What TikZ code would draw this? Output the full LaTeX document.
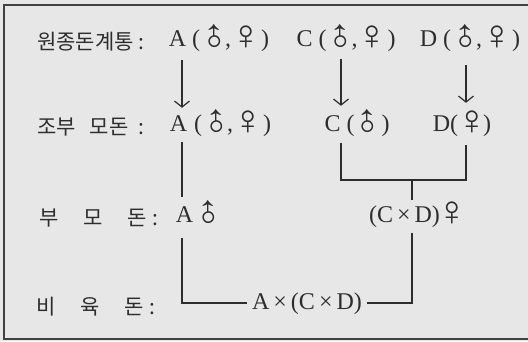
\documentclass[tikz,border=0pt]{standalone}
\usepackage{fontspec}
\setmainfont{Liberation Serif}
\newfontfamily\krfont{Noto Sans CJK KR}
\newfontfamily\symfont{Liberation Serif}
\usepackage{graphicx}
\usetikzlibrary{arrows.meta,positioning,calc}
\definecolor{paper}{RGB}{231,231,231}
\definecolor{ink}{RGB}{45,45,45}
\newcommand{\msym}{\makebox[14pt][c]{\raisebox{-0.2em}{\scalebox{1.75}{\rotatebox[origin=c]{45}{\symfont ♂}}}}}
\newcommand{\fsym}{\makebox[14pt][c]{\raisebox{-0.12em}{\scalebox{1.75}{\symfont ♀}}}}
\newcommand{\mfpair}{(\hspace{9pt}\msym\hspace{2pt},\hspace{8pt}\fsym\hspace{8pt})}
\newcommand{\tms}{\,×\,}
\tikzset{
  lbl/.style={anchor=west,inner sep=0pt,text=ink,font=\krfont\fontsize{21}{24}\selectfont},
  ent/.style={inner sep=0pt,text height=14pt,text depth=5pt,text=ink,font=\fontsize{24}{28}\selectfont},
  arr/.style={-{Straight Barb[length=6pt,width=15pt]},line width=1.2pt,color=ink},
  ln/.style={line width=1.2pt,color=ink},
  frame/.style={line width=1.4pt,color=ink!90}
}

\begin{document}
\begin{tikzpicture}[x=1pt,y=-1pt]
  \useasboundingbox (0,0) rectangle (528,341);
  \fill[paper] (0,0) rectangle (528,341);
  \draw[frame] (528,5) -- (4,5) -- (4,339) -- (528,339);

  % row labels
  \node[lbl] (l1) at (37,42) {원종돈계통\hspace{5pt}:};
  \node[lbl] (l2) at (37,127) {조부\hspace{14pt}모돈\hspace{10pt}:};
  \node[lbl] (l3) at (39,218) {부\hspace{25pt}모\hspace{25pt}돈\hspace{5pt}:};
  \node[lbl] (l4) at (36,307) {비\hspace{25pt}육\hspace{25pt}돈\hspace{5pt}:};

  % columns
  \coordinate (colA) at (182,0);
  \coordinate (colC) at (341,0);
  \coordinate (colD) at (466,0);
  \coordinate (jn) at (412,180);

  \node[ent] (a1) at (177.5,42) {A};
  \node[ent,anchor=west] (a1g) at (192,42) {\mfpair};
  \node[ent] (c1) at (346,42) {C \mfpair};
  \node[ent] (d1) at (470,42) {D \mfpair};

  \node[ent] (a2) at (178.5,127) {A};
  \node[ent,anchor=west] (a2g) at (194,127) {\mfpair};
  \node[ent] (c2) at (357,127) {C (\hspace{8pt}\msym\hspace{5pt})};
  \node[ent] (d2) at (462,127) {D(\hspace{7pt}\fsym\hspace{4pt})};

  \node[ent] (a3) at (184.5,218) {A};
  \node[ent] (a3g) at (210,218) {\msym};
  \node[ent] (cd3) at (414,218) {(C\tms D)\hspace{5pt}\fsym};

  \node[ent] (f4) at (307,305) {A\tms(C\tms D)};

  \draw[arr] ($(a1.south -| colA)+(0,8.5)$) -- ($(a2.north -| colA)+(0,-9.5)$);
  \draw[arr] ($(c1.south -| colC)+(0,7.5)$) -- ($(c2.north -| colC)+(0,-11.5)$);
  \draw[arr] ($(d1.south -| colD)+(0,13.5)$) -- ($(d2.north -| colD)+(0,-14.5)$);

  \draw[ln] ($(a2.south -| colA)+(0,5.5)$) -- ($(a3.north -| colA)+(0,-11.5)$);
  \draw[ln] ($(a3.south -| colA)+(0,10.5)$) |- ([xshift=-5pt,yshift=2pt]f4.west);
  \draw[ln] ($(c2.south -| colC)+(0,6.5)$) |- (jn) -| ($(d2.south -| colD)+(0,8.5)$);
  \draw[ln] (jn) -- ($(cd3.north -| jn)+(0,-8.5)$);
  \draw[ln] ($(cd3.south -| jn)+(0,5.5)$) |- ([xshift=5pt,yshift=2pt]f4.east);
\end{tikzpicture}
\end{document}
